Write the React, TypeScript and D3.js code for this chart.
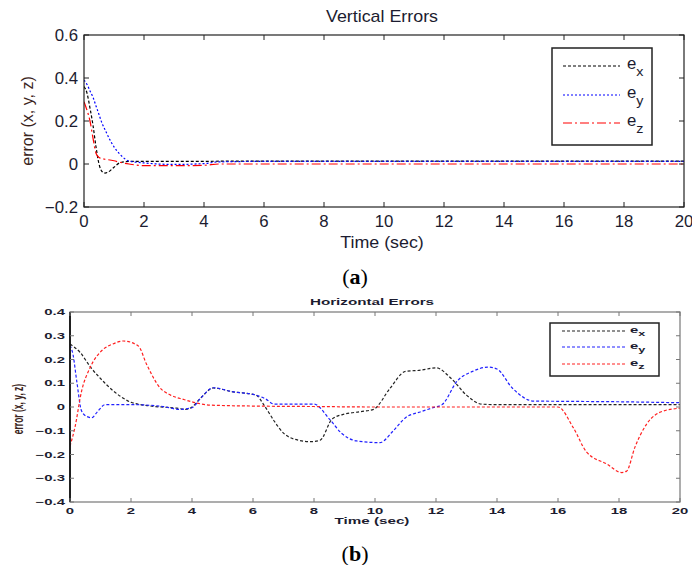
import React, { useEffect, useRef } from "react";
import * as d3 from "d3";

// ---- Vertical errors (a) ----
const vT = [0, 0.1, 0.2, 0.3, 0.4, 0.5, 0.6, 0.7, 0.8, 1.0, 1.2, 1.5, 2, 3, 4, 4.5, 6, 8, 10, 12, 14, 16, 18, 20];
const vEx = [0.36, 0.33, 0.26, 0.18, 0.08, 0.0, -0.035, -0.042, -0.038, -0.015, 0.006, 0.012, 0.012, 0.012, 0.012, 0.013, 0.013, 0.013, 0.013, 0.013, 0.013, 0.013, 0.013, 0.013];
const vEy = [0.39, 0.37, 0.34, 0.31, 0.27, 0.23, 0.19, 0.16, 0.13, 0.08, 0.045, 0.014, 0.005, -0.002, 0.002, 0.01, 0.012, 0.012, 0.012, 0.012, 0.012, 0.012, 0.012, 0.012];
const vEz = [0.29, 0.25, 0.2, 0.12, 0.05, 0.03, 0.025, 0.022, 0.02, 0.015, 0.008, 0.0, -0.008, -0.008, -0.006, 0.0, 0.0, 0.0, 0.0, 0.0, 0.0, 0.0, 0.0, 0.0];
const vXTicks = [0, 2, 4, 6, 8, 10, 12, 14, 16, 18, 20];
const vYTicks = [-0.2, 0, 0.2, 0.4, 0.6];

// ---- Horizontal errors (b) ----
const hExT = [0, 0.33, 0.66, 1.0, 1.4, 2.0, 2.6, 3.5, 3.8, 4.0, 4.3, 4.7, 5.3, 6.1, 6.35, 6.7, 7.0, 7.5, 7.9, 8.2, 8.6, 9.0, 9.5, 9.95, 10.5, 11.0, 11.5, 12.0, 12.5, 13.0, 13.5, 14, 16, 18, 20];
const hEx = [0.265, 0.23, 0.17, 0.12, 0.07, 0.02, 0.005, -0.005, -0.01, 0.0, 0.04, 0.08, 0.065, 0.05, 0.01, -0.06, -0.11, -0.14, -0.146, -0.14, -0.05, -0.03, -0.02, -0.01, 0.08, 0.15, 0.155, 0.165, 0.12, 0.05, 0.012, 0.01, 0.01, 0.01, 0.01];
const hEyT = [0, 0.1, 0.22, 0.38, 0.55, 0.71, 0.9, 1.15, 2.0, 3.0, 3.6, 4.0, 4.3, 4.7, 5.3, 6.1, 6.4, 6.7, 7.5, 8.0, 8.5, 8.9, 9.4, 10.16, 10.6, 11.0, 11.5, 11.9, 12.2, 12.7, 13.2, 13.7, 14.0, 14.5, 15.2, 16, 18, 20];
const hEy = [0.26, 0.22, 0.11, -0.017, -0.04, -0.045, -0.02, 0.01, 0.01, 0.003, -0.01, -0.003, 0.04, 0.081, 0.065, 0.05, 0.035, 0.012, 0.012, 0.012, -0.05, -0.11, -0.143, -0.15, -0.1, -0.045, -0.02, -0.003, 0.01, 0.11, 0.15, 0.168, 0.16, 0.08, 0.025, 0.024, 0.022, 0.018];
const hEzT = [0, 0.16, 0.38, 0.66, 1.09, 1.4, 1.75, 2.24, 2.51, 2.95, 3.3, 3.72, 4.6, 6, 8, 10, 12, 14, 16.0, 16.5, 16.94, 17.6, 18.09, 18.25, 18.52, 18.9, 19.45, 20];
const hEz = [-0.165, -0.087, 0.067, 0.166, 0.243, 0.265, 0.278, 0.257, 0.18, 0.081, 0.05, 0.032, 0.008, 0.004, 0.002, 0.0, 0.0, 0.0, 0.0, -0.087, -0.19, -0.24, -0.276, -0.27, -0.17, -0.073, -0.017, -0.005];
const hXTicks = [0, 2, 4, 6, 8, 10, 12, 14, 16, 18, 20];
const hYTicks = [-0.4, -0.3, -0.2, -0.1, 0, 0.1, 0.2, 0.3, 0.4];

const legendNames = ["x", "y", "z"];

export default function App() {
  const svgRef = useRef<SVGSVGElement>(null);

  useEffect(() => {
    const svg = d3.select(svgRef.current);
    svg.selectAll("*").remove();

    const drawPanel = (opts: any) => {
      const { left, right, top, bottom, xDom, yDom, xTicks, yTicks, series, fs, bold, frame, tickLen, legend, sx } = opts;
      const x = d3.scaleLinear().domain(xDom).range([left, right]);
      const y = d3.scaleLinear().domain(yDom).range([bottom, top]);
      const g = svg.append("g").style("font-family", "'Liberation Sans', Arial, sans-serif");
      const fw = bold ? "bold" : "normal";

      // text stretched horizontally like the scanned figure
      const label = (px: number, py: number, txt: string, size: number, anchor: string, extra = "") =>
        g
          .append("text")
          .attr("transform", `translate(${px},${py}) scale(${sx},1)${extra}`)
          .attr("text-anchor", anchor)
          .attr("font-size", size)
          .attr("font-weight", fw)
          .attr("fill", "#1c1c30")
          .text(txt);

      // series
      const line = d3
        .line<[number, number]>()
        .x((d) => x(d[0]))
        .y((d) => y(d[1]))
        .curve(d3.curveMonotoneX);
      const clipId = "clip" + Math.round(top);
      svg
        .append("clipPath")
        .attr("id", clipId)
        .append("rect")
        .attr("x", left)
        .attr("y", top)
        .attr("width", right - left)
        .attr("height", bottom - top);
      series.forEach((s: any) => {
        g.append("path")
          .datum(d3.zip(s.t, s.v) as [number, number][])
          .attr("d", line)
          .attr("fill", "none")
          .attr("stroke", s.color)
          .attr("stroke-width", 1.2)
          .attr("stroke-dasharray", s.dash)
          .attr("clip-path", `url(#${clipId})`);
      });

      // frame
      g.append("rect")
        .attr("x", left)
        .attr("y", top)
        .attr("width", right - left)
        .attr("height", bottom - top)
        .attr("fill", "none")
        .attr("stroke", frame)
        .attr("stroke-width", 1.2);
      if (opts.leftDark) {
        g.append("line")
          .attr("x1", left).attr("x2", left).attr("y1", top).attr("y2", bottom)
          .attr("stroke", "#111").attr("stroke-width", 1.8);
      }

      // ticks inside, all four sides
      xTicks.forEach((t: number) => {
        g.append("line").attr("x1", x(t)).attr("x2", x(t)).attr("y1", bottom).attr("y2", bottom - tickLen).attr("stroke", frame);
        g.append("line").attr("x1", x(t)).attr("x2", x(t)).attr("y1", top).attr("y2", top + tickLen).attr("stroke", frame);
        label(x(t), bottom + opts.xLabOff, d3.format("~g")(t), fs, "middle");
      });
      yTicks.forEach((t: number) => {
        g.append("line").attr("x1", left).attr("x2", left + tickLen).attr("y1", y(t)).attr("y2", y(t)).attr("stroke", frame);
        g.append("line").attr("x1", right).attr("x2", right - tickLen).attr("y1", y(t)).attr("y2", y(t)).attr("stroke", frame);
        label(left - opts.yLabGap, y(t) + fs * 0.36, d3.format("~g")(t), fs, "end");
      });

      // title & axis labels
      label(opts.titleX, opts.titleY, opts.title, opts.titleFs, "middle");
      label(opts.titleX, opts.xLabelY, "Time (sec)", opts.xLabelFs, "middle");
      label(opts.yLabelX, (top + bottom) / 2 + opts.yLabelDy, "error (x, y, z)", opts.yLabelFs, "middle", " rotate(-90)")
        .attr("fill", "#3a2420");

      // legend
      const L = legend;
      g.append("rect")
        .attr("x", L.x0)
        .attr("y", L.y0)
        .attr("width", L.x1 - L.x0)
        .attr("height", L.y1 - L.y0)
        .attr("fill", "#fff")
        .attr("stroke", "#222")
        .attr("stroke-width", 1.5);
      series.forEach((s: any, i: number) => {
        const ly = L.rows[i];
        g.append("line")
          .attr("x1", L.lx0)
          .attr("x2", L.lx1)
          .attr("y1", ly)
          .attr("y2", ly)
          .attr("stroke", s.color)
          .attr("stroke-width", 1.2)
          .attr("stroke-dasharray", s.dash);
        const tx = label(L.tx, ly + L.fs * 0.2, "", L.fs, "start");
        tx.append("tspan").text("e");
        tx.append("tspan")
          .attr("dy", L.fs * 0.4)
          .attr("font-size", L.fs * 0.85)
          .text(legendNames[i]);
      });
    };

    drawPanel({
      left: 84, right: 684, top: 35, bottom: 207, sx: 1.05,
      xDom: [0, 20], yDom: [-0.2, 0.6],
      xTicks: vXTicks, yTicks: vYTicks,
      fs: 16, bold: false, frame: "#222", tickLen: 5, xLabOff: 20, yLabGap: 6,
      title: "Vertical Errors", titleX: 382, titleY: 22, titleFs: 17,
      xLabelY: 248, xLabelFs: 17, yLabelX: 33, yLabelDy: 0, yLabelFs: 16,
      series: [
        { t: vT, v: vEx, color: "#000", dash: "3,2" },
        { t: vT, v: vEy, color: "#0000ff", dash: "2,2" },
        { t: vT, v: vEz, color: "#ff0000", dash: "9,3,2,3" },
      ],
      legend: { x0: 552, x1: 652, y0: 48, y1: 145, rows: [66, 95, 123], lx0: 563, lx1: 620, tx: 627, fs: 16 },
    });

    drawPanel({
      left: 70, right: 680, top: 312, bottom: 502, sx: 1.75,
      xDom: [0, 20], yDom: [-0.4, 0.4],
      xTicks: hXTicks, yTicks: hYTicks,
      fs: 8.5, bold: true, frame: "#777", tickLen: 4, xLabOff: 12, yLabGap: 5, leftDark: true,
      title: "Horizontal Errors", titleX: 372, titleY: 305, titleFs: 8.7,
      xLabelY: 524, xLabelFs: 8.7, yLabelX: 23, yLabelDy: 2, yLabelFs: 8.5,
      series: [
        { t: hExT, v: hEx, color: "#222", dash: "3,2" },
        { t: hEyT, v: hEy, color: "#2020ff", dash: "3,2" },
        { t: hEzT, v: hEz, color: "#ff2020", dash: "3,2" },
      ],
      legend: { x0: 550, x1: 659, y0: 323, y1: 376, rows: [331, 347, 364], lx0: 562, lx1: 627, tx: 630, fs: 8.5 },
    });

    // panel captions
    [["(a)", 284], ["(b)", 561]].forEach(([txt, yy]) => {
      const t = svg
        .append("text")
        .attr("x", 355)
        .attr("y", yy as number)
        .attr("text-anchor", "middle")
        .attr("font-family", "'Liberation Serif', 'Times New Roman', serif")
        .attr("font-size", 22)
        .attr("fill", "#000");
      t.append("tspan").text("(");
      t.append("tspan").attr("font-weight", "bold").text((txt as string).slice(1, 2));
      t.append("tspan").text(")");
    });
  }, []);

  return (
    <svg
      ref={svgRef}
      width={692}
      height={565}
      style={{ position: "absolute", left: 0, top: 0, background: "#fff" }}
    />
  );
}
